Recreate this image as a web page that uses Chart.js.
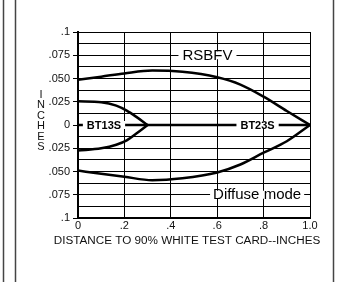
<!DOCTYPE html>
<html>
<head>
<meta charset="utf-8">
<script src="https://cdn.jsdelivr.net/npm/chart.js@4.4.0/dist/chart.umd.min.js"></script>
<style>
html,body{margin:0;padding:0;background:#fff;}
#wrap{position:relative;width:351px;height:282px;}
</style>
</head>
<body>
<div id="wrap"><canvas id="c" width="351" height="282"></canvas></div>
<script>
// ---- data ----
const xTickLabels = ['0', '.2', '.4', '.6', '.8', '1.0'];
const yTickLabels = ['.1', '.075', '.050', '.025', '0', '.025', '.050', '.075', '.1'];

const rsbfvX     = [0, 0.1, 0.2, 0.32, 0.45, 0.6, 0.7, 0.8, 0.9, 1.0];
const rsbfvUpper = [0.0487, 0.052, 0.0555, 0.0585, 0.0572, 0.0513, 0.0435, 0.0305, 0.015, 0];
const rsbfvLower = [-0.049, -0.0525, -0.0557, -0.0593, -0.0572, -0.051, -0.0425, -0.0298, -0.0175, 0];

const bt13X     = [0, 0.1, 0.165, 0.21, 0.25, 0.3];
const bt13Upper = [0.0255, 0.0245, 0.0208, 0.0155, 0.009, 0];
const bt13Lower = [-0.0275, -0.025, -0.0212, -0.0165, -0.0095, 0];

const centerX = [0, 1.0];
const centerY = [0, 0];

const xTitle = 'DISTANCE TO 90% WHITE TEST CARD--INCHES';
const yTitle = 'INCHES';

// ---- build ----
const FONT = '"Liberation Sans", Arial, Helvetica, sans-serif';
const pts = (xs, ys) => xs.map((x, i) => ({x: x, y: ys[i]}));
const lineStyle = {
  showLine: true, pointRadius: 0, borderColor: '#000', borderWidth: 2.5,
  cubicInterpolationMode: 'monotone', fill: false
};

const annotations = [
  {text: 'RSBFV', x: 0.558, y: 0.075, font: '15px ' + FONT, pad: 4},
  {text: 'Diffuse mode', x: 0.772, y: -0.075, font: '15px ' + FONT, pad: 3},
  {text: 'BT13S', x: 0.112, y: 0, font: 'bold 11px ' + FONT, pad: 4},
  {text: 'BT23S', x: 0.774, y: 0, font: 'bold 11px ' + FONT, pad: 4}
];

const decor = {
  id: 'decor',
  beforeDraw(chart) {
    const ctx = chart.ctx;
    ctx.save();
    ctx.fillStyle = '#fff';
    ctx.fillRect(0, 0, chart.width, chart.height);
    ctx.strokeStyle = '#444';
    ctx.lineWidth = 1.5;
    [3.5, 15.5, 333.5].forEach(x => {
      ctx.beginPath(); ctx.moveTo(x, 0); ctx.lineTo(x, chart.height); ctx.stroke();
    });
    ctx.restore();
  },
  afterDatasetsDraw(chart) {
    const ctx = chart.ctx;
    const xs = chart.scales.x, ys = chart.scales.y;
    ctx.save();
    ctx.textBaseline = 'middle';
    ctx.textAlign = 'center';
    annotations.forEach(a => {
      ctx.font = a.font;
      const px = xs.getPixelForValue(a.x);
      const py = ys.getPixelForValue(a.y);
      const w = ctx.measureText(a.text).width;
      ctx.fillStyle = '#fff';
      ctx.fillRect(px - w / 2 - a.pad, py - 4, w + 2 * a.pad, 8);
      ctx.fillStyle = '#000';
      ctx.fillText(a.text, px, py + 0.5);
    });
    // x title
    ctx.font = '11.7px ' + FONT;
    ctx.fillStyle = '#111';
    ctx.fillText(xTitle, 187, 241);
    // y title (stacked letters)
    ctx.font = '11px ' + FONT;
    const letters = yTitle.split('');
    letters.forEach((ch, i) => {
      ctx.fillText(ch, 41, 95 + i * 10.4);
    });
    ctx.restore();
  }
};

new Chart(document.getElementById('c'), {
  type: 'scatter',
  data: {
    datasets: [
      Object.assign({label: 'RSBFV upper', data: pts(rsbfvX, rsbfvUpper)}, lineStyle),
      Object.assign({label: 'RSBFV lower', data: pts(rsbfvX, rsbfvLower)}, lineStyle),
      Object.assign({label: 'BT13S upper', data: pts(bt13X, bt13Upper)}, lineStyle),
      Object.assign({label: 'BT13S lower', data: pts(bt13X, bt13Lower)}, lineStyle),
      Object.assign({label: 'BT23S axis', data: pts(centerX, centerY)}, lineStyle, {cubicInterpolationMode: 'default', tension: 0})
    ]
  },
  options: {
    responsive: false,
    animation: false,
    devicePixelRatio: 1,
    layout: {padding: {left: 0, right: 41, top: 32, bottom: 0}},
    plugins: {legend: {display: false}, tooltip: {enabled: false}, title: {display: false}},
    scales: {
      x: {
        type: 'linear', min: 0, max: 1.0,
        afterFit(s) { s.height = 64; },
        afterBuildTicks(s) { s.ticks = xTickLabels.map((_, i) => ({value: i * 0.2})); },
        ticks: {
          autoSkip: false, maxRotation: 0, padding: 1, color: '#111',
          font: {family: FONT, size: 11},
          callback: (v, i) => xTickLabels[i]
        },
        grid: {color: '#000', lineWidth: 1, drawTicks: false},
        border: {color: '#000', width: 2}
      },
      y: {
        type: 'linear', min: -0.1, max: 0.1,
        afterFit(s) { s.width = 78; },
        afterBuildTicks(s) {
          const arr = [];
          for (let i = 0; i <= 16; i++) arr.push({value: -0.1 + i * 0.0125});
          s.ticks = arr;
        },
        ticks: {
          autoSkip: false, padding: 3, color: '#111',
          font: {family: FONT, size: 11},
          callback: (v, i) => (i % 2 === 0 ? yTickLabels[i / 2] : '')
        },
        grid: {
          color: '#000', lineWidth: 1, tickLength: 5,
          tickColor: ctx => (ctx.index % 2 === 0 ? '#000' : 'rgba(0,0,0,0)')
        },
        border: {color: '#000', width: 2}
      }
    }
  },
  plugins: [decor]
});
</script>
</body>
</html>
